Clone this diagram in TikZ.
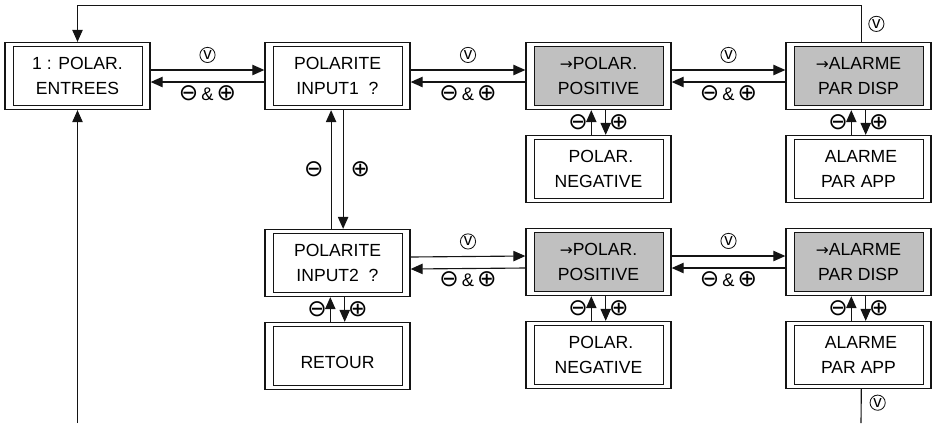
\documentclass[tikz,border=0pt]{standalone}
\usepackage{fontspec}
\setmainfont{Liberation Sans}
\newfontfamily\symfont{DejaVu Sans}
\usetikzlibrary{arrows.meta, positioning, calc}
\definecolor{GF}{RGB}{192,192,192}
\definecolor{DK}{RGB}{20,20,20}
\newcommand{\msym}{{\symfont\fontsize{16.5}{16.5}\selectfont ⊖}}
\newcommand{\psym}{{\symfont\fontsize{16.5}{16.5}\selectfont ⊕}}
\newcommand{\rarr}{{\symfont\fontsize{11}{11}\selectfont →}}

\begin{document}
\begin{tikzpicture}[x=0.025cm, y=0.025cm,
  box/.style={draw=DK, line width=0.9pt, fill=white,
              minimum width=3.625cm, minimum height=1.675cm,
              align=center, font=\fontsize{12.5}{17.5}\selectfont,
              path picture={\draw[draw=DK, line width=0.6pt, fill=#1]
                ([shift={(0.2cm,0.1cm)}]path picture bounding box.south west) rectangle
                ([shift={(-0.2cm,-0.1cm)}]path picture bounding box.north east);}},
  box/.default=white,
  arr/.style={-{Triangle[length=0.3cm, width=0.26cm]}, line width=0.8pt, draw=DK},
  lnk/.style={line width=0.8pt, draw=DK},
  lab/.style={font=\fontsize{13}{15}\selectfont, inner sep=1pt},
  vlab/.style={circle, draw=DK, line width=0.6pt, inner sep=0pt,
               minimum size=0.38cm, font=\fontsize{12}{12}\selectfont}
]
\useasboundingbox (0,0) rectangle (932,-423);

% first row
\node[box]    (ent)   at (77.5,-76)  {1 : POLAR.\\ENTREES};
\node[box]    (in1)   at (337.5,-76) {POLARITE\\INPUT1~~?};
\node[box=GF] (pos1)  at (598.5,-76) {\rarr POLAR.\\POSITIVE};
\node[box=GF] (disp1) at (858.5,-76) {\rarr ALARME\\PAR DISP};
\node[box]    (neg1)  at (598.5,-169) {~POLAR.\\NEGATIVE};
\node[box]    (app1)  at (858.5,-169) {~ALARME\\PAR APP};

% second row
\node[box]    (in2)   at (337.5,-263) {POLARITE\\INPUT2~~?};
\node[box]    (ret)   at (337.5,-356) {\mbox{}\\RETOUR};
\node[box=GF] (pos2)  at (598.5,-262) {\rarr POLAR.\\POSITIVE};
\node[box=GF] (disp2) at (858.5,-262) {\rarr ALARME\\PAR DISP};
\node[box]    (neg2)  at (598.5,-355) {~POLAR.\\NEGATIVE};
\node[box]    (app2)  at (858.5,-355) {~ALARME\\PAR APP};

\coordinate (bl) at (77.5,-423);
\coordinate (br) at (861,-423);

% horizontal pairs
\foreach \l/\r in {ent/in1, in1/pos1, pos1/disp1, in2/pos2, pos2/disp2} {
  \draw[arr] ([yshift=0.15cm]\l.east) -- node[vlab,above=5pt]{v} ([yshift=0.15cm]\r.west);
  \draw[arr] ([yshift=-0.15cm]\r.west) -- node[lab,below=1pt]{\msym\,\&\,\psym} ([yshift=-0.15cm]\l.east);
}

% vertical pairs
\foreach \u/\d in {pos1/neg1, disp1/app1, in2/ret, pos2/neg2, disp2/app2} {
  \draw[arr] ([xshift=-0.18cm]\d.north) -- node[lab,left=1pt]{\msym} ([xshift=-0.18cm]\u.south);
  \draw[arr] ([xshift=0.18cm]\u.south) -- node[lab,right=1pt]{\psym} ([xshift=0.18cm]\d.north);
}
\draw[arr] ([xshift=-0.16cm]in2.north) -- node[lab,left=4pt]{\msym} ([xshift=-0.16cm]in1.south);
\draw[arr] ([xshift=0.14cm]in1.south) -- node[lab,right=4pt]{\psym} ([xshift=0.14cm]in2.north);

% loops back
\draw[arr] ([xshift=0.07cm]disp1.north) -- node[vlab,right=5pt]{v} ++(0,36) -| (ent.north);
\draw[arr] (bl) -- (ent.south);
\draw[lnk] ([xshift=0.07cm]app2.south) -- node[vlab,right=6pt,pos=0.4]{v} (br);
\end{tikzpicture}
\end{document}
